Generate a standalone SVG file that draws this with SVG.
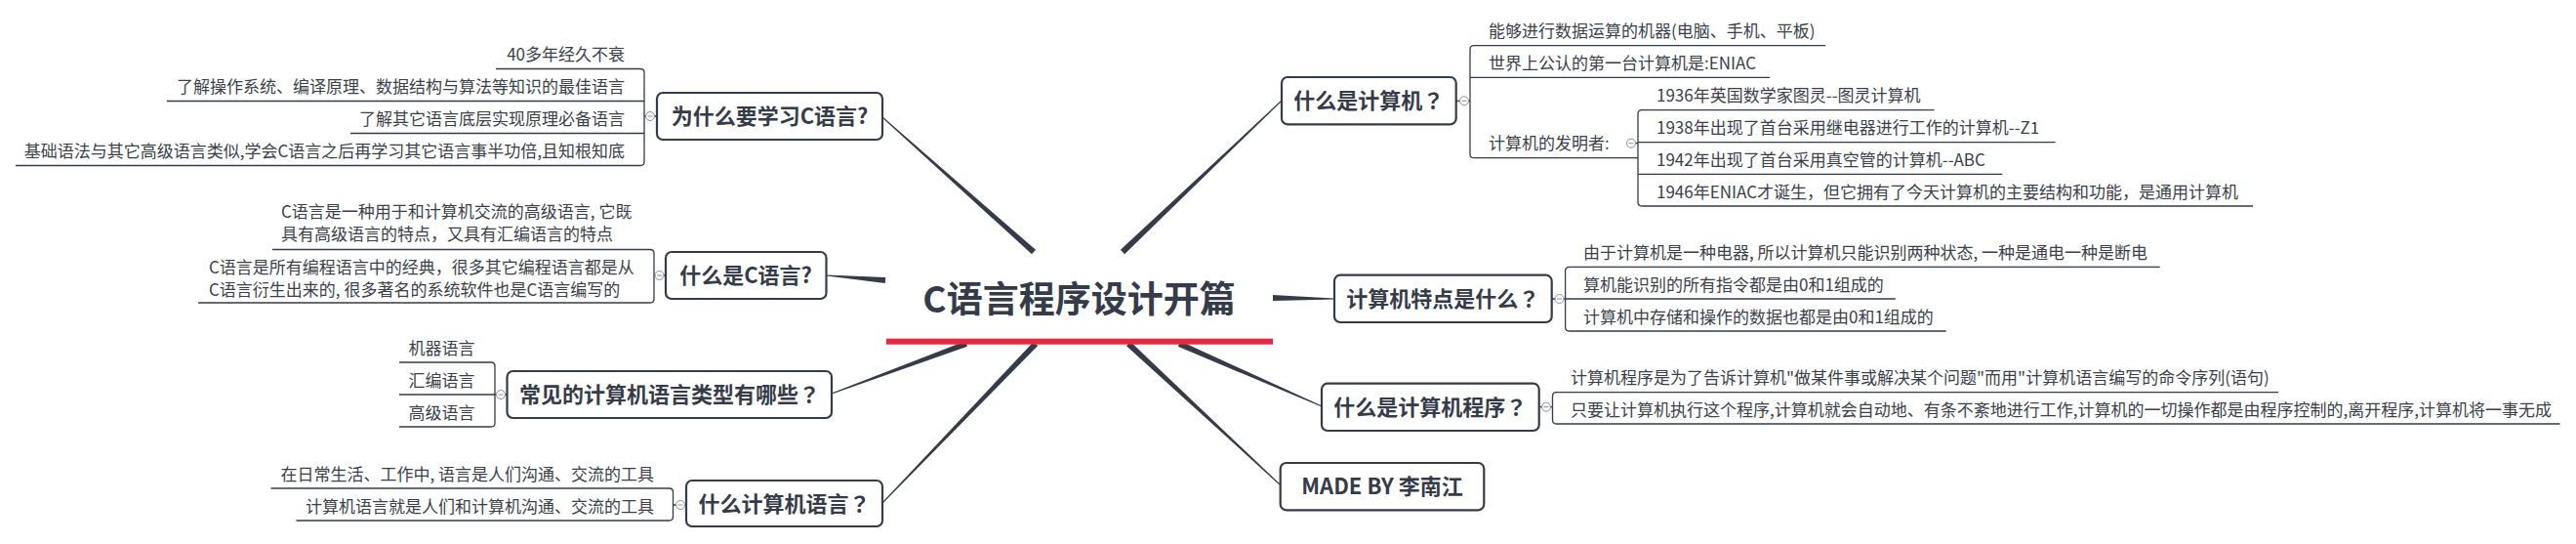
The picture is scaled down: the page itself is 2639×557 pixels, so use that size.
<svg xmlns="http://www.w3.org/2000/svg" width="2639" height="557" viewBox="0 0 2639 557">
<style>
.t{font-family:"Noto Sans CJK SC","Microsoft YaHei",sans-serif;font-size:17px;fill:#3a3f4a}
.e{text-anchor:end}
.n rect{fill:#fff;stroke:#353b48;stroke-width:2.2}
.n text{font-family:"Noto Sans CJK SC","Microsoft YaHei",sans-serif;font-size:22px;font-weight:bold;fill:#353b48;text-anchor:middle}
.q{font-family:"Noto Sans CJK TC","Noto Sans CJK SC",sans-serif}
.ln{fill:none;stroke:#353b48;stroke-width:1.3}
.cc{fill:#fff;stroke:#8c9099;stroke-width:1}
.cm{stroke:#8c9099;stroke-width:1}
.br{fill:#353b48}
</style>
<defs>
<g id="col"><circle class="cc" cx="0" cy="0" r="4.5"/><line class="cm" x1="-2.5" y1="0" x2="2.5" y2="0"/></g>
</defs>
<rect width="2639" height="557" fill="#fff"/>

<g id="connectors">
<polygon class="br" points="903.7,120.4 1057,260.2 1061,255.8 904.3,119.6"/>
<polygon class="br" points="1312.7,102.6 1147.9,255.8 1152.1,260.2 1313.3,103.4"/>
<polygon class="br" points="847,282.5 906.8,290 907.2,284 847,281.5"/>
<polygon class="br" points="1367,305.5 1304,302 1304,308 1367,306.5"/>
<polygon class="br" points="852.2,403.5 991,354.8 989,349.2 851.8,402.5"/>
<polygon class="br" points="904.4,515.4 1063.2,354.1 1058.8,349.9 903.6,514.6"/>
<polygon class="br" points="1312.3,496.6 1158,349.8 1154,354.2 1311.7,497.4"/>
<polygon class="br" points="1354.2,415.5 1209.2,349.3 1206.8,354.8 1353.8,416.5"/>

<path class="ln" d="M508,70.5 H656 Q660,70.5 660,74.5 V165.5 Q660,169.5 656,169.5 H16 M171,103.5 H660 M359,136.5 H660 M660,119 H673"/>
<path class="ln" d="M279,255.5 H666 Q670,255.5 670,259.5 V306 Q670,310 666,310 H203 M670,282 H682"/>
<path class="ln" d="M409,371 H503 Q507,371 507,375 V433 Q507,437 503,437 H409 M409,404 H519"/>
<path class="ln" d="M277.5,500 H685.5 Q689.5,500 689.5,504 V529 Q689.5,533 685.5,533 H303.5 M689.5,517 H703"/>
<path class="ln" d="M1870,46.7 H1510 Q1506,46.7 1506,50.7 V157.7 Q1506,161.7 1510,161.7 H1678 M1506,79.3 H1813 M1492,103.3 H1506"/>
<path class="ln" d="M1981.5,112.7 H1682 Q1678,112.7 1678,116.7 V207 Q1678,211 1682,211 H2308 M1678,145.7 H2105.6 M1678,178.3 H2051.4 M1671,146.7 H1678"/>
<path class="ln" d="M2212.7,273.3 H1607.6 Q1603.6,273.3 1603.6,277.3 V335 Q1603.6,339 1607.6,339 H1993.7 M1603.6,306 H1941.8 M1589.7,306 H1603.6"/>
<path class="ln" d="M2334,401.7 H1594.5 Q1590.5,401.7 1590.5,405.7 V430 Q1590.5,434 1594.5,434 H2622.5 M1576.7,416.7 H1590.5"/>
</g>

<g id="center">
<text x="1105.5" y="320" font-family="Noto Sans CJK SC,Microsoft YaHei,sans-serif" font-size="37" font-weight="bold" fill="#353b48" text-anchor="middle">C语言程序设计开篇</text>
<rect x="908" y="346.7" width="396" height="6" fill="#e9293f"/>
</g>

<g id="n-why" class="n">
<rect x="673" y="95" width="231" height="48" rx="6"/>
<text x="788.5" y="127">为什么要学习C语言?</text>
</g>
<use href="#col" x="666" y="119"/>
<g id="why-items">
<text class="t e" x="640" y="62">40多年经久不衰</text>
<text class="t e" x="640" y="95">了解操作系统、编译原理、数据结构与算法等知识的最佳语言</text>
<text class="t e" x="640" y="128">了解其它语言底层实现原理必备语言</text>
<text class="t e" x="640" y="161">基础语法与其它高级语言类似,学会C语言之后再学习其它语言事半功倍,且知根知底</text>
</g>

<g id="n-whatc" class="n">
<rect x="682" y="258" width="164.5" height="48" rx="6"/>
<text x="764" y="290">什么是C语言?</text>
</g>
<use href="#col" x="675.5" y="282"/>
<g id="whatc-items">
<text class="t" x="288" y="223">C语言是一种用于和计算机交流的高级语言, 它既</text>
<text class="t" x="288" y="246">具有高级语言的特点，又具有汇编语言的特点</text>
<text class="t" x="214" y="280">C语言是所有编程语言中的经典，很多其它编程语言都是从</text>
<text class="t" x="214" y="302.5">C语言衍生出来的, 很多著名的系统软件也是C语言编写的</text>
</g>

<g id="n-types" class="n">
<rect x="519.5" y="380" width="332.5" height="48" rx="6"/>
<text x="686" y="412">常见的计算机语言类型有哪些<tspan class="q">？</tspan></text>
</g>
<use href="#col" x="513" y="404"/>
<g id="types-items">
<text class="t" x="418.5" y="362.5">机器语言</text>
<text class="t" x="418.5" y="395.5">汇编语言</text>
<text class="t" x="418.5" y="428.5">高级语言</text>
</g>

<g id="n-lang" class="n">
<rect x="703" y="492" width="201" height="47" rx="6"/>
<text x="803.5" y="523.5">什么计算机语言<tspan class="q">？</tspan></text>
</g>
<use href="#col" x="697" y="517"/>
<g id="lang-items">
<text class="t e" x="670" y="491.5">在日常生活、工作中, 语言是人们沟通、交流的工具</text>
<text class="t e" x="670" y="524.5">计算机语言就是人们和计算机沟通、交流的工具</text>
</g>

<g id="n-computer" class="n">
<rect x="1313" y="79" width="178.7" height="48.3" rx="6"/>
<text x="1402.3" y="111">什么是计算机<tspan class="q">？</tspan></text>
</g>
<use href="#col" x="1500" y="103.3"/>
<use href="#col" x="1671" y="146.7"/>
<g id="computer-items">
<text class="t" x="1525" y="38.2">能够进行数据运算的机器(电脑、手机、平板)</text>
<text class="t" x="1525" y="70.8">世界上公认的第一台计算机是:ENIAC</text>
<text class="t" x="1525" y="153">计算机的发明者:</text>
<text class="t" x="1697" y="104.2">1936年英国数学家图灵--图灵计算机</text>
<text class="t" x="1697" y="137.2">1938年出现了首台采用继电器进行工作的计算机--Z1</text>
<text class="t" x="1697" y="169.8">1942年出现了首台采用真空管的计算机--ABC</text>
<text class="t" x="1697" y="202.5">1946年ENIAC才诞生，但它拥有了今天计算机的主要结构和功能，是通用计算机</text>
</g>

<g id="n-features" class="n">
<rect x="1367" y="281.7" width="222.7" height="48.3" rx="6"/>
<text x="1478.3" y="314">计算机特点是什么<tspan class="q">？</tspan></text>
</g>
<use href="#col" x="1597.5" y="306"/>
<g id="features-items">
<text class="t" x="1622" y="264.8">由于计算机是一种电器, 所以计算机只能识别两种状态, 一种是通电一种是断电</text>
<text class="t" x="1622" y="297.5">算机能识别的所有指令都是由0和1组成的</text>
<text class="t" x="1622" y="330.5">计算机中存储和操作的数据也都是由0和1组成的</text>
</g>

<g id="n-program" class="n">
<rect x="1354" y="392.7" width="222.7" height="48.3" rx="6"/>
<text x="1465.3" y="425">什么是计算机程序<tspan class="q">？</tspan></text>
</g>
<use href="#col" x="1584" y="416.7"/>
<g id="program-items">
<text class="t" x="1609" y="393.2">计算机程序是为了告诉计算机&quot;做某件事或解决某个问题&quot;而用&quot;计算机语言编写的命令序列(语句)</text>
<text class="t" x="1609" y="425.5">只要让计算机执行这个程序,计算机就会自动地、有条不紊地进行工作,计算机的一切操作都是由程序控制的,离开程序,计算机将一事无成</text>
</g>

<g id="n-made" class="n">
<rect x="1311.7" y="474" width="208.6" height="48.3" rx="6"/>
<text x="1416" y="506">MADE BY 李南江</text>
</g>
</svg>
